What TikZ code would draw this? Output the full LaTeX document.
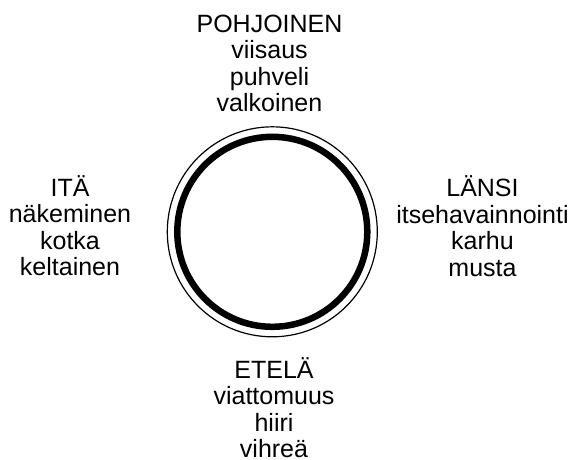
\documentclass[tikz,border=0pt]{standalone}
\usepackage{fontspec}
\setmainfont{Liberation Sans}
\begin{document}
\begin{tikzpicture}[x=1pt,y=-1pt,
  lbl/.style={align=center,anchor=base,inner sep=0pt,font=\fontsize{25}{26.4}\selectfont},
  thinring/.style={draw=black,line width=1.2pt},
  thickring/.style={draw=black,line width=6.5pt}]
\useasboundingbox (0,0) rectangle (574,459);
\coordinate (c) at (272.3,231.8);
\draw[thinring] (c) circle[radius=105];
\draw[thickring] (c) circle[radius=95];
\node[lbl] (north) at (269.5,111.5) {POHJOINEN\\viisaus\\puhveli\\valkoinen};
\node[lbl] (west) at (70,275.7) {ITÄ\\näkeminen\\kotka\\keltainen};
\node[lbl] (east) at (482.5,276) {LÄNSI\\itsehavainnointi\\karhu\\musta};
\node[lbl] (south) at (274,457.5) {ETELÄ\\viattomuus\\hiiri\\vihreä};
\end{tikzpicture}
\end{document}
